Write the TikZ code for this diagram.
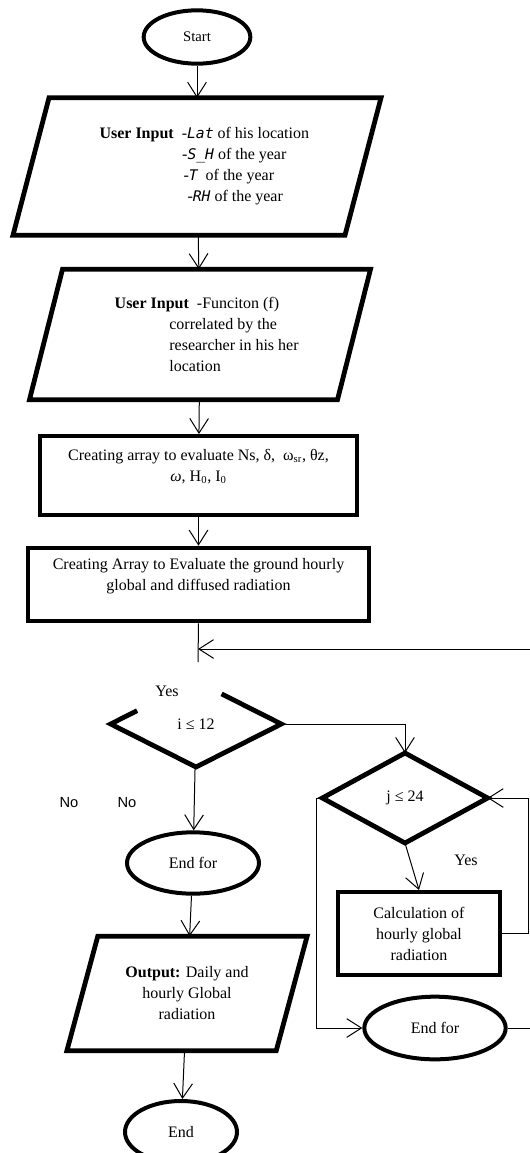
\documentclass[tikz,border=0pt]{standalone}
\usepackage{fontspec}
\setmainfont{Liberation Serif}
\newfontfamily\labelfont{Liberation Sans}
\newfontfamily\codefont{DejaVu Sans Mono}
\usetikzlibrary{shapes.geometric,arrows.meta,calc}

\newcommand\vname[1]{{\codefont\itshape\fontsize{11pt}{15.75pt}\selectfont #1}}

\begin{document}
\begin{tikzpicture}[x=0.75pt,y=-0.75pt,
    font=\fontsize{12pt}{15.75pt}\selectfont,
    term/.style={ellipse,draw,line width=3pt,inner sep=0pt},
    io/.style={rectangle,inner sep=0pt,outer sep=0pt,align=left},
    ioline/.style={line width=3.6pt},
    proc/.style={rectangle,draw,line width=3.2pt,inner sep=0pt,align=center},
    cond/.style={diamond,inner sep=0pt,outer sep=0pt},
    link/.style={line width=0.75pt},
    arr/.style={link,-{Straight Barb[length=11pt,width=14pt]}},
    note/.style={inner sep=0pt}]
    \useasboundingbox (0,0) rectangle (529,1153);

    % main column
    \node[term,minimum width=80pt,minimum height=40pt,
        font=\fontsize{11pt}{13pt}\selectfont] (start) at (197,37) {Start};
    \node[io,minimum width=249pt,minimum height=103pt] (in1) at (197,166.5)
        {\hspace*{11pt}\textbf{User Input}\ \ -\vname{Lat} of his location\\
         \hspace*{73pt}-\vname{S\_H} of the year\\
         \hspace*{74pt}-\vname{T}\ \ of the year\\
         \hspace*{77pt}-\vname{RH} of the year};
    \draw[ioline] ([xshift=-13.5pt]in1.south west) -- ([xshift=-13.5pt]in1.south east)
        -- ([xshift=13.5pt]in1.north east) -- ([xshift=13.5pt]in1.north west) -- cycle;
    \node[io,minimum width=231pt,minimum height=98pt] (in2) at (200,334.5)
        {\hspace*{10pt}\textbf{User Input}\ \ -Funciton (f)\\
         \hspace*{51pt}correlated by the\\
         \hspace*{51pt}researcher in his her\\
         \hspace*{51pt}location};
    \draw[ioline] ([xshift=-12.4pt]in2.south west) -- ([xshift=-12.4pt]in2.south east)
        -- ([xshift=12.4pt]in2.north east) -- ([xshift=12.4pt]in2.north west) -- cycle;
    \node[proc,minimum width=238pt,minimum height=59pt] (eval) at (198.5,475.5)
        {Creating array to evaluate Ns, δ,\ \ ω\textsubscript{sr}, θz,\\
         \textit{ω}, H\textsubscript{0}, I\textsubscript{0}\\ \mbox{}};
    \node[proc,minimum width=256pt,minimum height=55pt] (grid) at (198.5,584.5)
        {Creating Array to Evaluate the ground hourly\\
         global and diffused radiation\\ \mbox{}};
    \coordinate (tail) at (198,662);
    \coordinate (back) at (198,649);

    % i loop
    \node[cond,minimum width=128pt,minimum height=64.5pt] (icheck) at (196,724) {i ≤ 12};
    \draw[line width=3.6pt] ($(icheck.west)!0.31!(icheck.north)$) -- (icheck.west)
        -- (icheck.south) -- (icheck.east) -- ($(icheck.east)!0.7!(icheck.north)$);
    \node[term,minimum width=99pt,minimum height=46pt] (endi) at (193,863) {End for};
    \node[io,align=center,minimum width=157pt,minimum height=86pt] (out) at (187,993.5)
        {\textbf{Output:} Daily and\\ hourly Global\\ radiation};
    \draw[ioline] ([xshift=-11.6pt]out.south west) -- ([xshift=-11.6pt]out.south east)
        -- ([xshift=11.6pt]out.north east) -- ([xshift=11.6pt]out.north west) -- cycle;
    \node[term,minimum width=84pt,minimum height=46.5pt] (stop) at (181,1132) {End};

    % j loop
    \node[cond,minimum width=124pt,minimum height=67.5pt] (jcheck) at (405,798) {j ≤ 24};
    \draw[line width=3.6pt] (jcheck.north) -- (jcheck.east) -- (jcheck.south)
        -- (jcheck.west) -- cycle;
    \node[proc,minimum width=121.5pt,minimum height=62pt] (calc) at (419,933.5)
        {Calculation of\\ hourly global\\ radiation};
    \node[term,minimum width=106pt,minimum height=47pt] (endj) at (435,1028) {End for};

    % labels
    \node[note] (yesi) at (167,691) {Yes};
    \node[note] (yesj) at (466,860) {Yes};
    \node[note,font={\labelfont\fontsize{11pt}{13pt}\selectfont}] (noa) at (69,803) {No};
    \node[note,font={\labelfont\fontsize{11pt}{13pt}\selectfont}] (nob) at (127,803) {No};

    % connectors
    \draw[arr] (start) -- (in1);
    \draw[arr] (in1) -- (in2);
    \draw[arr] (in2) -- (eval);
    \draw[arr] (eval) -- (grid);
    \draw[link] (grid.south) -- (tail);
    \draw[arr] (icheck.east) -| (jcheck.north);
    \draw[arr] (icheck) -- (endi);
    \draw[arr] (endi) -- (out);
    \draw[arr] (out) -- (stop);
    \draw[arr] (jcheck.south) -- (calc.north);
    \draw[arr] (calc.east) -- ++(26,0) |- (jcheck.east);
    \draw[arr] (jcheck.west) -- ++(-6,0) |- (endj.west);
    \draw[arr] (endj.east) -- ++(32,0) |- (back);
\end{tikzpicture}
\end{document}
